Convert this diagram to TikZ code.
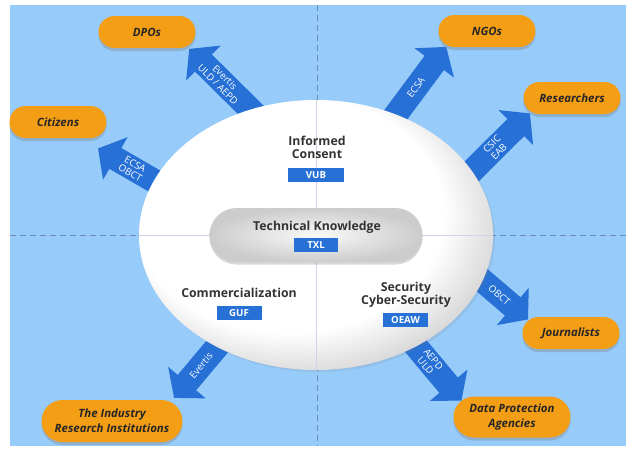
\documentclass[tikz,border=0pt]{standalone}
\usepackage{fontspec}
\setmainfont{Open Sans}
\usetikzlibrary{arrows.meta,positioning,shapes.geometric,shapes.misc,shadows}

\definecolor{skyback}{RGB}{150,203,250}
\definecolor{flowblue}{RGB}{38,112,214}
\definecolor{pillorange}{RGB}{244,158,22}
\definecolor{quarterline}{RGB}{110,138,172}
\definecolor{discline}{RGB}{205,214,226}

\pgfdeclareradialshading{discshade}{\pgfpoint{-7bp}{7bp}}{%
  color(0bp)=(white); color(22bp)=(white); color(30bp)=(black!17); color(50bp)=(black!17)}

\begin{document}
\begin{tikzpicture}[
    x=0.4mm, y=-0.4mm,
    actor/.style={
        rounded rectangle,
        fill=pillorange,
        align=center,
        inner sep=0pt,
        minimum width=38.8mm,
        minimum height=12.8mm,
        font=\fontsize{13}{17}\selectfont\bfseries\itshape,
        text=black!85,
        drop shadow={shadow xshift=0pt, shadow yshift=-1.2mm, opacity=.35}
    },
    topic/.style={
        align=center,
        inner sep=0pt,
        font=\fontsize{14}{15}\selectfont\bfseries,
        text=black!80
    },
    unitbox/.style={
        fill=flowblue,
        text=white,
        inner sep=0pt,
        minimum height=5.6mm,
        minimum width=18mm,
        font=\fontsize{11}{11}\selectfont\bfseries
    },
    flow/.style={
        -{Triangle[length=8mm, width=19.2mm]},
        line width=9.6mm,
        draw=flowblue
    },
    flowtext/.style={
        sloped,
        align=center,
        text=white,
        inner sep=0pt,
        font=\fontsize{11}{11.5}\selectfont
    },
    quarter/.style={quarterline, line width=0.8pt, dash pattern=on 2.4mm off 1.6mm},
    innerline/.style={discline, line width=0.8pt}
]

\useasboundingbox (0,0) rectangle (626,455);
\fill[skyback] (10,5) rectangle (626,446);
\draw[quarter] (317,5) -- (317,446);
\draw[quarter] (10,235) -- (626,235);

\node[actor] (dpos) at (147,32) {DPOs};
\node[actor] (citizens) at (58,122) {Citizens};
\node[actor] (ngos) at (487,31) {NGOs};
\node[actor] (researchers) at (572,98) {Researchers};
\node[actor] (journalists) at (571,333) {Journalists};
\node[actor, minimum width=46.8mm, minimum height=16.4mm] (dpa) at (512,417) {Data Protection\\Agencies};
\node[actor, minimum width=56.4mm, minimum height=16.8mm] (industry) at (112,421) {The Industry\\Research Institutions};

\coordinate (dposfrom) at (260.7,119.7);
\coordinate (citizensfrom) at (192,202.7);
\coordinate (ngosfrom) at (380.8,134.9);
\coordinate (researchersfrom) at (459.3,183.7);
\coordinate (journalistsfrom) at (453.4,255.7);
\coordinate (dpafrom) at (397.7,324.4);
\coordinate (industryfrom) at (238.3,321.4);

\draw[flow, shorten >=1.4mm] (dposfrom) -- node[flowtext, pos=.53] (dposlbl) {Evertis\\ULD / AEPD} (dpos.-20);
\draw[flow, shorten >=8.2mm] (citizensfrom) -- node[flowtext, pos=.53] (citizenslbl) {ECSA\\OBCT} (citizens.-36);
\draw[flow, shorten >=0.7mm] (ngosfrom) -- node[flowtext, pos=.53] (ngoslbl) {ECSA} (ngos.200);
\draw[flow, shorten >=0.8mm] (researchersfrom) -- node[flowtext, pos=.5] (researcherslbl) {CSIC\\EAB} (researchers.199);
\draw[flow, shorten >=0.4mm] (journalistsfrom) -- node[flowtext, pos=.61] (journalistslbl) {OBCT} (journalists.163);
\draw[flow] (dpafrom) -- node[flowtext, pos=.5] (dpalbl) {AEPD\\ULD} (dpa.162);
\draw[flow, shorten >=2.1mm] (industryfrom) -- node[flowtext, pos=.55] (industrylbl) {Evertis} (industry.18);

\node[ellipse, shade, shading=discshade, inner sep=0pt, minimum width=141.6mm, minimum height=108mm,
      drop shadow={shadow xshift=.8mm, shadow yshift=-.8mm, opacity=.15}] (disc) at (316,235) {};
\draw[innerline] (disc.west) -- (disc.east);
\draw[innerline] (disc.north) -- (disc.south);

\node[rounded rectangle, inner sep=0pt, minimum width=85.2mm, minimum height=21.6mm,
      shade, inner color=gray!4, outer color=gray!40,
      drop shadow={shadow xshift=0pt, shadow yshift=-1mm, opacity=.3}] (core) at (316,235) {};

\node[topic] (consent) at (317,147) {Informed\\Consent};
\node[unitbox, minimum width=22.4mm] (vub) at (316,175) {VUB};
\node[topic] (technical) at (317,227) {Technical Knowledge};
\node[unitbox, minimum width=17.6mm] (txl) at (316,245) {TXL};
\node[topic] (commerce) at (239,293) {Commercialization};
\node[unitbox] (guf) at (239,313) {GUF};
\node[topic] (security) at (406,295) {Security\\Cyber-Security};
\node[unitbox] (oeaw) at (405.5,320) {OEAW};

\end{tikzpicture}
\end{document}
